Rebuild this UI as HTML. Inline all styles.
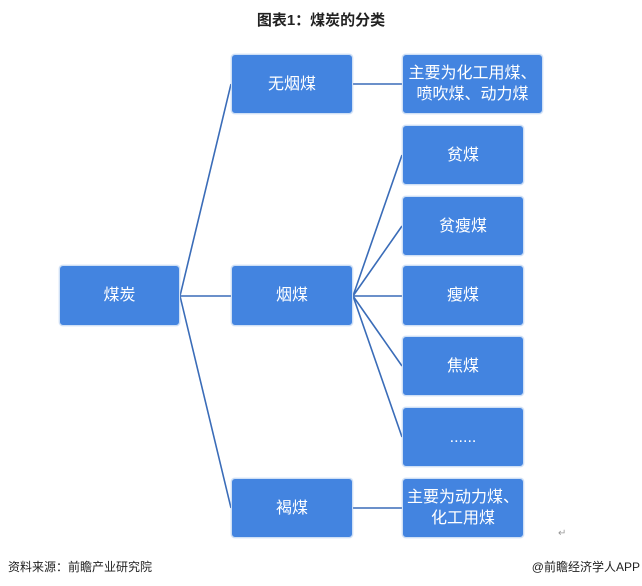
<!DOCTYPE html>
<html><head><meta charset="utf-8"><style>
body{margin:0;width:642px;height:586px;background:#fff;position:relative;overflow:hidden;font-family:"Liberation Sans","Noto Sans CJK SC",sans-serif}
.t{position:absolute;left:0;width:642px;top:9px;text-align:center;font-weight:bold;font-size:15px;color:#222}
.b{position:absolute;background:#4384e0;border:1px solid #cfe0f5;border-radius:4px;color:#fff;font-size:16px;display:flex;align-items:center;justify-content:center;text-align:center;line-height:21px;box-sizing:border-box;box-shadow:0 0 1px #8fb3e8}
.f{position:absolute;top:558px;font-size:12px;color:#222}
</style></head><body>
<div class="t">图表1：煤炭的分类</div>
<svg width="642" height="586" style="position:absolute;left:0;top:0">
<g stroke="#3a6cb8" stroke-width="1.6" fill="none">
<line x1="180" y1="296" x2="231" y2="84"/>
<line x1="180" y1="296" x2="231" y2="296"/>
<line x1="180" y1="296" x2="231" y2="508"/>
<line x1="353" y1="84" x2="402" y2="84"/>
<line x1="353" y1="508" x2="402" y2="508"/>
<line x1="353" y1="296" x2="402" y2="155"/>
<line x1="353" y1="296" x2="402" y2="226"/>
<line x1="353" y1="296" x2="402" y2="296"/>
<line x1="353" y1="296" x2="402" y2="366"/>
<line x1="353" y1="296" x2="402" y2="437"/>
</g></svg>
<div class="b" style="left:231px;top:54px;width:122px;height:60px">无烟煤</div>
<div class="b" style="left:402px;top:54px;width:141px;height:60px">主要为化工用煤、<br>喷吹煤、动力煤</div>
<div class="b" style="left:59px;top:265px;width:121px;height:61px">煤炭</div>
<div class="b" style="left:231px;top:265px;width:122px;height:61px">烟煤</div>
<div class="b" style="left:402px;top:125px;width:122px;height:60px">贫煤</div>
<div class="b" style="left:402px;top:196px;width:122px;height:60px">贫瘦煤</div>
<div class="b" style="left:402px;top:265px;width:122px;height:61px">瘦煤</div>
<div class="b" style="left:402px;top:336px;width:122px;height:60px">焦煤</div>
<div class="b" style="left:402px;top:407px;width:122px;height:60px">......</div>
<div class="b" style="left:231px;top:478px;width:122px;height:60px">褐煤</div>
<div class="b" style="left:402px;top:478px;width:122px;height:60px">主要为动力煤、<br>化工用煤</div>
<div style="position:absolute;left:558px;top:528px;font-size:10px;color:#999">↵</div>
<div class="f" style="left:8px">资料来源：前瞻产业研究院</div>
<div class="f" style="right:2px">@前瞻经济学人APP</div>
</body></html>
